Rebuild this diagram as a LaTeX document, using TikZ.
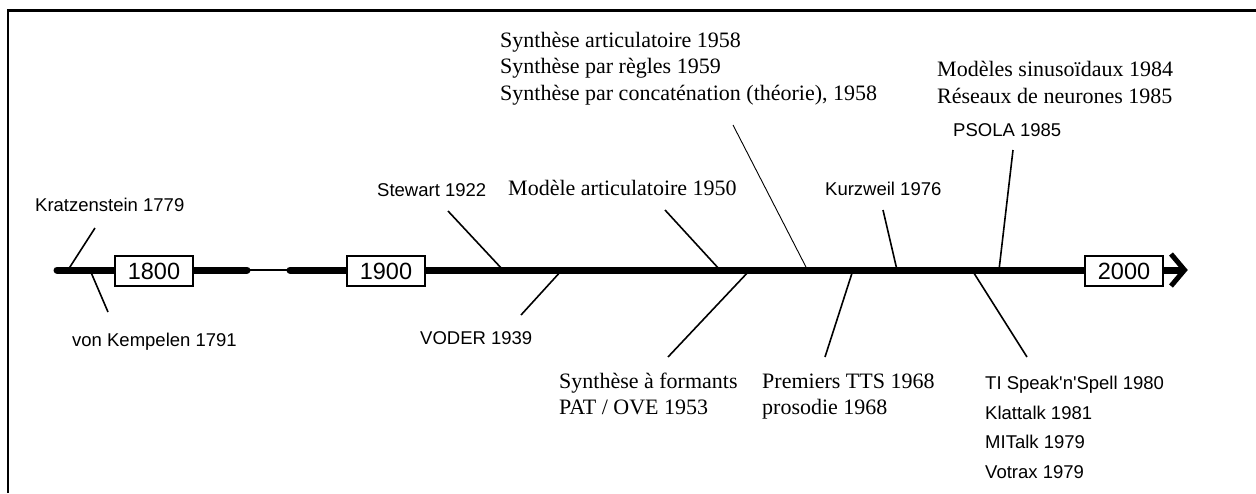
\documentclass[tikz,border=0pt]{standalone}
\usepackage{fontspec}
\newfontfamily\sansface{Liberation Sans}
\newfontfamily\serifface{Liberation Serif}
\begin{document}
\begin{tikzpicture}[x=1pt,y=-1pt,
  sanslabel/.style={anchor=base west,inner sep=0pt,font=\sansface\fontsize{18.5}{22}\selectfont},
  seriflabel/.style={anchor=base west,inner sep=0pt,font=\serifface\fontsize{22}{26}\selectfont},
  yearbox/.style={draw,line width=2pt,fill=white,minimum width=78pt,minimum height=30pt,inner sep=0pt,font=\sansface\fontsize{23.5}{26}\selectfont},
  axisline/.style={line width=7pt,line cap=round},
  tickline/.style={line width=1.6pt},
  thintick/.style={line width=0.9pt}]
\useasboundingbox (0,0) rectangle (1256,493);

% outer frame (left and top edges)
\draw[line width=2.2pt] (8,493) -- (8,10.5) -- (1256,10.5);

% time axis
\coordinate (axA) at (57,270);
\coordinate (axB) at (247,270);
\coordinate (axC) at (290,270);
\coordinate (axD) at (1182,270);
\draw[axisline] (axA) -- (axB);
\draw[line width=1.2pt] (axB) -- (axC);
\draw[axisline] (axC) -- (axD);
\coordinate (tipTop) at (1171,254);
\coordinate (tipApex) at (1184.5,270);
\coordinate (tipBot) at (1171,286);
\draw[line width=5pt,line join=miter] (tipTop) -- (tipApex) -- (tipBot);

% points on the axis
\coordinate (pKra) at (68,270);
\coordinate (pKem) at (90,270);
\coordinate (pSte) at (503,270);
\coordinate (pVod) at (562,270);
\coordinate (pMod) at (720,270);
\coordinate (pFor) at (750,270);
\coordinate (pCon) at (807,269);
\coordinate (pTts) at (853,270);
\coordinate (pKur) at (897,270);
\coordinate (pTis) at (972,270);
\coordinate (pPso) at (999,270);

% outer ends of the leader lines
\coordinate (eKra) at (95,228);
\coordinate (eKem) at (108,312);
\coordinate (eSte) at (448,211);
\coordinate (eVod) at (521,315);
\coordinate (eMod) at (665,210);
\coordinate (eFor) at (668,357);
\coordinate (eCon) at (733,125);
\coordinate (eTts) at (825,357);
\coordinate (eKur) at (883,210);
\coordinate (eTis) at (1027,357);
\coordinate (ePso) at (1013,150);

\draw[tickline] (pKra) -- (eKra);
\draw[tickline] (pKem) -- (eKem);
\draw[tickline] (pSte) -- (eSte);
\draw[tickline] (pVod) -- (eVod);
\draw[tickline] (pMod) -- (eMod);
\draw[tickline] (pFor) -- (eFor);
\draw[thintick] (pCon) -- (eCon);
\draw[tickline] (pTts) -- (eTts);
\draw[tickline] (pKur) -- (eKur);
\draw[tickline] (pTis) -- (eTis);
\draw[tickline] (pPso) -- (ePso);

% century boxes
\node[yearbox] (y1800) at (154,271) {1800};
\node[yearbox] (y1900) at (386,271) {1900};
\node[yearbox] (y2000) at (1124,271) {2000};

% labels above the axis
\node[sanslabel] (lKra) at (35,211) {Kratzenstein 1779};
\node[sanslabel] (lSte) at (377,196) {Stewart 1922};
\node[seriflabel] (lMod) at (508,195) {Modèle articulatoire 1950};
\node[sanslabel] (lKur) at (825,195) {Kurzweil 1976};
\node[seriflabel] (lArt) at (500,47) {Synthèse articulatoire 1958};
\node[seriflabel] (lReg) at (500,73) {Synthèse par règles 1959};
\node[seriflabel] (lCon) at (500,100) {Synthèse par concaténation (théorie), 1958};
\node[seriflabel] (lSin) at (937,76) {Modèles sinusoïdaux 1984};
\node[seriflabel] (lNeu) at (937,103) {Réseaux de neurones 1985};
\node[sanslabel] (lPso) at (953,136) {PSOLA 1985};

% labels below the axis
\node[sanslabel] (lKem) at (72,346) {von Kempelen 1791};
\node[sanslabel] (lVod) at (420,344) {VODER 1939};
\node[seriflabel] (lFor) at (559,388) {Synthèse à formants};
\node[seriflabel] (lPat) at (559,414) {PAT / OVE 1953};
\node[seriflabel] (lTts) at (762,388) {Premiers TTS 1968};
\node[seriflabel] (lPro) at (762,414) {prosodie 1968};
\node[sanslabel] (lTis) at (985,389) {TI Speak'n'Spell 1980};
\node[sanslabel] (lKla) at (985,419) {Klattalk 1981};
\node[sanslabel] (lMit) at (985,448) {MITalk 1979};
\node[sanslabel] (lVot) at (985,478) {Votrax 1979};
\end{tikzpicture}
\end{document}
